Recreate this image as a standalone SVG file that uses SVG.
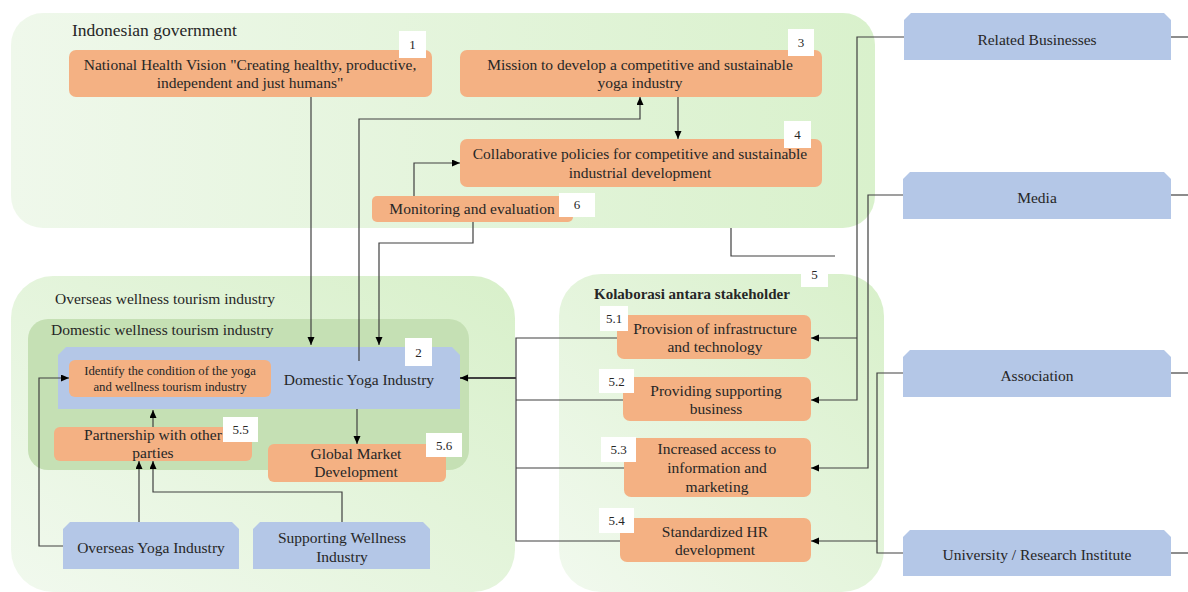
<svg xmlns="http://www.w3.org/2000/svg" width="1188" height="592" viewBox="0 0 1188 592">
<style>
text{font-family:"Liberation Serif","Times New Roman",serif;fill:#262626;}
.t{font-size:15.5px;text-anchor:middle;}
.s{font-size:12.8px;text-anchor:middle;}
.h{font-size:17.5px;}
.b{font-size:13px;text-anchor:middle;}
.or{fill:#f4b183;}
.bl{fill:#b4c7e7;}
.bd{fill:#ffffff;}
.c{fill:none;stroke:#404040;stroke-width:1.2;}
.a{marker-end:url(#arr);}
</style>
<defs>
<marker id="arr" markerWidth="9" markerHeight="8" refX="8" refY="3.5" orient="auto" markerUnits="userSpaceOnUse">
<path d="M0,0 L8,3.5 L0,7 z" fill="#000"/>
</marker>
<linearGradient id="gGov" x1="0" y1="0" x2="1" y2="0">
<stop offset="0" stop-color="#eff8eb"/>
<stop offset="1" stop-color="#d9f1cc"/>
</linearGradient>
<linearGradient id="gOv" x1="0" y1="1" x2="1" y2="0">
<stop offset="0" stop-color="#f1f9ee"/>
<stop offset="1" stop-color="#d8f0ca"/>
</linearGradient>
<linearGradient id="gKo" x1="0" y1="1" x2="1" y2="0">
<stop offset="0" stop-color="#f1f9ee"/>
<stop offset="1" stop-color="#d8f0ca"/>
</linearGradient>
</defs>

<g id="containers">
<rect id="gov" x="11" y="13" width="864" height="215" rx="32" fill="url(#gGov)"/>
<text class="h" x="72" y="36">Indonesian government</text>
<rect id="overseas" x="11" y="276" width="504" height="316" rx="42" fill="url(#gOv)"/>
<text style="font-size:15.5px" x="55" y="304">Overseas wellness tourism industry</text>
<rect id="domestic" x="28" y="319" width="441" height="151" rx="20" fill="#c5e0b4"/>
<text style="font-size:15.5px" x="51" y="335">Domestic wellness tourism industry</text>
<rect id="kolaborasi" x="559" y="274" width="325" height="318" rx="42" fill="url(#gKo)"/>
<text style="font-size:15px;font-weight:bold" x="594" y="299">Kolaborasi antara stakeholder</text>
</g>

<g id="n1">
<rect class="or" x="69" y="50" width="363" height="47" rx="7"/>
<text class="t" x="250" y="70">National Health Vision "Creating healthy, productive,</text>
<text class="t" x="250" y="88">independent and just humans"</text>
<rect class="bd" x="399" y="31" width="27" height="27"/>
<text class="b" x="412.5" y="49">1</text>
</g>

<g id="n3">
<rect class="or" x="460" y="50" width="362" height="47" rx="7"/>
<text class="t" x="640" y="70">Mission to develop a competitive and sustainable</text>
<text class="t" x="640" y="88">yoga industry</text>
<rect class="bd" x="788" y="29" width="26" height="27"/>
<text class="b" x="801" y="47">3</text>
</g>

<g id="n4">
<rect class="or" x="460" y="139" width="362" height="48" rx="7"/>
<text class="t" x="640" y="159">Collaborative policies for competitive and sustainable</text>
<text class="t" x="640" y="178">industrial development</text>
<rect class="bd" x="784" y="121" width="27" height="27"/>
<text class="b" x="797.5" y="139">4</text>
</g>

<g id="n6">
<rect class="or" x="372" y="196" width="201" height="26" rx="5"/>
<text class="t" x="472" y="214">Monitoring and evaluation</text>
<rect class="bd" x="559" y="193" width="36" height="24"/>
<text class="b" x="577" y="209">6</text>
</g>

<g id="n2">
<polygon class="bl" points="58,355 66,347 452,347 460,355 460,409 58,409"/>
<text class="t" x="359" y="385">Domestic Yoga Industry</text>
<rect class="bd" x="405" y="338" width="27" height="28"/>
<text class="b" x="418.5" y="357">2</text>
</g>

<g id="identify">
<rect class="or" x="69" y="360" width="202" height="37" rx="6"/>
<text class="s" x="170" y="375">Identify the condition of the yoga</text>
<text class="s" x="170" y="391">and wellness tourism industry</text>
</g>

<g id="n55">
<rect class="or" x="54" y="427" width="198" height="34" rx="6"/>
<text class="t" x="153" y="440">Partnership with other</text>
<text class="t" x="153" y="458">parties</text>
<rect class="bd" x="223" y="417" width="35" height="25"/>
<text class="b" x="240.5" y="434">5.5</text>
</g>

<g id="n56">
<rect class="or" x="268" y="444" width="178" height="38" rx="6"/>
<text class="t" x="356" y="459">Global Market</text>
<text class="t" x="356" y="477">Development</text>
<rect class="bd" x="426" y="433" width="36" height="24"/>
<text class="b" x="444" y="450">5.6</text>
</g>

<g id="overseasYoga">
<polygon class="bl" points="63,529 70,522 232,522 239,529 239,569 63,569"/>
<text class="t" x="151" y="553">Overseas Yoga Industry</text>
</g>

<g id="supporting">
<polygon class="bl" points="253,529 260,522 423,522 430,529 430,569 253,569"/>
<text class="t" x="342" y="543">Supporting Wellness</text>
<text class="t" x="342" y="562">Industry</text>
</g>

<g id="n5">
<rect class="bd" x="801" y="261" width="27" height="26"/>
<text class="b" x="814.5" y="279">5</text>
</g>

<g id="n51">
<rect class="or" x="617" y="315" width="194" height="44" rx="7"/>
<text class="t" x="715" y="334">Provision of infrastructure</text>
<text class="t" x="715" y="352">and technology</text>
<rect class="bd" x="600" y="306" width="28" height="25"/>
<text class="b" x="614" y="323">5.1</text>
</g>

<g id="n52">
<rect class="or" x="623" y="377" width="188" height="44" rx="7"/>
<text class="t" x="716" y="396">Providing supporting</text>
<text class="t" x="716" y="414">business</text>
<rect class="bd" x="599" y="369" width="35" height="24"/>
<text class="b" x="616.5" y="386">5.2</text>
</g>

<g id="n53">
<rect class="or" x="624" y="438" width="187" height="59" rx="7"/>
<text class="t" x="717" y="454">Increased access to</text>
<text class="t" x="717" y="473">information and</text>
<text class="t" x="717" y="492">marketing</text>
<rect class="bd" x="601" y="437" width="35" height="25"/>
<text class="b" x="618.5" y="454">5.3</text>
</g>

<g id="n54">
<rect class="or" x="620" y="518" width="191" height="44" rx="7"/>
<text class="t" x="715" y="537">Standardized HR</text>
<text class="t" x="715" y="555">development</text>
<rect class="bd" x="599" y="508" width="35" height="25"/>
<text class="b" x="616.5" y="525">5.4</text>
</g>

<g id="related">
<polygon class="bl" points="904,20 911,13 1164,13 1171,20 1171,60 904,60"/>
<text class="t" x="1037" y="45">Related Businesses</text>
</g>
<g id="media">
<polygon class="bl" points="903,179 910,172 1164,172 1171,179 1171,219 903,219"/>
<text class="t" x="1037" y="203">Media</text>
</g>
<g id="association">
<polygon class="bl" points="903,357 910,350 1164,350 1171,357 1171,397 903,397"/>
<text class="t" x="1037" y="381">Association</text>
</g>
<g id="university">
<polygon class="bl" points="903,537 910,530 1164,530 1171,537 1171,576 903,576"/>
<text class="t" x="1037" y="560">University / Research Institute</text>
</g>

<g id="connectors">
<path class="c a" d="M311,97 V345"/>
<path class="c a" d="M359,361 V119 H640 V97"/>
<path class="c a" d="M678,97 V139"/>
<path class="c a" d="M414,196 V163 H460"/>
<path class="c a" d="M473,222 V243 H379 V345"/>
<path class="c a" d="M357,409 V444"/>
<path class="c a" d="M153,427 V410"/>
<path class="c a" d="M139,522 V461"/>
<path class="c a" d="M342,522 V492 H153 V461"/>
<path class="c a" d="M63,546 H39 V378 H69"/>
<path class="c" d="M617,338 H516 V541 H620"/>
<path class="c" d="M623,400 H516"/>
<path class="c" d="M624,468 H516"/>
<path class="c a" style="stroke-width:1.8" d="M516,378 H460"/>
<path class="c" d="M731,228 V256 H835"/>
<path class="c a" d="M904,37 H857 V400 H811"/>
<path class="c a" d="M857,338 H811"/>
<path class="c a" d="M903,195 H868 V468 H811"/>
<path class="c" d="M903,373 H877 V553 H903"/>
<path class="c a" d="M877,541 H811"/>
<path class="c" d="M1171,37 H1188"/>
<path class="c" d="M1171,195 H1188"/>
<path class="c" d="M1171,373 H1188"/>
<path class="c" d="M1171,553 H1188"/>
</g>
</svg>
